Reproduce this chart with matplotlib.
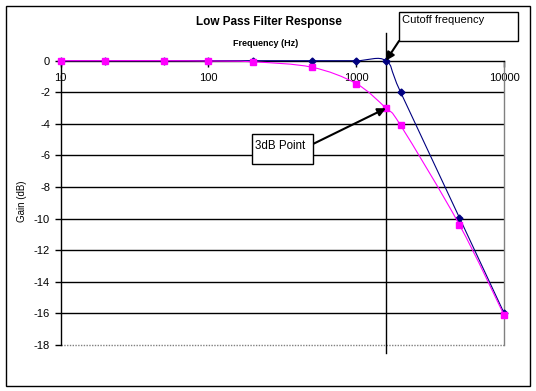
import numpy as np
import matplotlib
matplotlib.use("Agg")
import matplotlib.pyplot as plt
from matplotlib.path import Path
from matplotlib.patches import PathPatch, Rectangle
from matplotlib.ticker import NullLocator

plt.rcParams['font.family'] = ['Liberation Sans', 'DejaVu Sans']
plt.rcParams['axes.unicode_minus'] = False

# ---- data ----
freq = [10, 20, 50, 100, 200, 500, 1000, 1591, 2000, 5000, 10000]
ideal_gain = [0, 0, 0, 0, 0, 0, 0, 0, -2.0, -9.95, -15.97]
actual_gain = [0, 0, 0, -0.02, -0.07, -0.41, -1.45, -3.01, -4.1, -10.4, -16.1]
cutoff = 1591
x_ticks = [10, 100, 1000, 10000]
x_labels = ["10", "100", "1000", "10000"]
y_ticks = [0, -2, -4, -6, -8, -10, -12, -14, -16, -18]
y_labels = ["0", "-2", "-4", "-6", "-8", "-10", "-12", "-14", "-16", "-18"]

W, H = 536, 391
fig = plt.figure(figsize=(W / 100, H / 100), dpi=100)

def fx(px):
    return px / W

def fy(py):
    return 1 - py / H

ax = fig.add_axes([fx(60.5), fy(345), fx(504) - fx(60.5), fy(60.7) - fy(345)])
ax.set_xscale('log')
ax.set_xlim(10, 10000)
ax.set_ylim(-18, 0)


def smooth_path(xs, ys):
    lx = np.log10(np.asarray(xs, float))
    yy = np.asarray(ys, float)
    n = len(lx)
    verts = [(xs[0], ys[0])]
    codes = [Path.MOVETO]
    for i in range(n - 1):
        i0 = max(i - 1, 0)
        i3 = min(i + 2, n - 1)
        c1x = lx[i] + (lx[i + 1] - lx[i0]) / 6
        c1y = yy[i] + (yy[i + 1] - yy[i0]) / 6
        c2x = lx[i + 1] - (lx[i3] - lx[i]) / 6
        c2y = yy[i + 1] - (yy[i3] - yy[i]) / 6
        verts += [(10 ** c1x, c1y), (10 ** c2x, c2y), (xs[i + 1], ys[i + 1])]
        codes += [Path.CURVE4] * 3
    return Path(verts, codes)


navy = '#000080'
pink = '#FF00FF'

p1 = PathPatch(smooth_path(freq, ideal_gain), fill=False, edgecolor=navy, lw=0.8,
               transform=ax.transData, zorder=3, clip_on=False)
ax.add_patch(p1)
ax.plot(freq, ideal_gain, ls='none', marker='D', ms=3.5, color=navy, zorder=3, clip_on=False)

p2 = PathPatch(smooth_path(freq, actual_gain), fill=False, edgecolor=pink, lw=0.8,
               transform=ax.transData, zorder=4, clip_on=False)
ax.add_patch(p2)
ax.plot(freq, actual_gain, ls='none', marker='s', ms=4.5, color=pink, zorder=4, clip_on=False)

# grid lines
for yv in y_ticks[1:-1]:
    ax.axhline(yv, color='black', lw=1.0, zorder=1)
ax.axhline(-18, color='#808080', lw=1.0, ls=(0, (1, 1)), zorder=1, clip_on=False)

# spines
ax.spines['top'].set_visible(False)
ax.spines['right'].set_color('#808080')
ax.spines['right'].set_linestyle((0, (1, 1)))
ax.spines['right'].set_linewidth(1.0)
ax.spines['bottom'].set_position(('data', 0))
ax.spines['bottom'].set_color('black')
ax.spines['bottom'].set_linewidth(1.0)
ax.spines['left'].set_color('black')
ax.spines['left'].set_linewidth(1.0)

ax.set_xticks(x_ticks)
ax.set_xticklabels(x_labels)
ax.xaxis.set_minor_locator(NullLocator())
ax.set_yticks(y_ticks)
ax.set_yticklabels(y_labels)
ax.tick_params(axis='x', direction='out', length=4, width=1, pad=4.5, labelsize=8, colors='black')
ax.tick_params(axis='y', direction='out', length=4, width=1, pad=3.5, labelsize=8, colors='black')

# cutoff vertical line
ax.axvline(cutoff, ymin=-0.028, ymax=1.097, color='black', lw=1.0, clip_on=False, zorder=2)

# texts
fig.text(fx(269), fy(22), "Low Pass Filter Response", ha='center', va='center',
         fontsize=8.5, fontweight='bold')
fig.text(fx(266), fy(43), "Frequency (Hz)", ha='center', va='center',
         fontsize=6.5, fontweight='bold')
fig.text(fx(22), fy(201), "Gain (dB)", ha='center', va='center', rotation=90,
         fontsize=7)

# annotation boxes
fig.patches.append(Rectangle((fx(399), fy(41)), fx(518) - fx(399), fy(12) - fy(41),
                             transform=fig.transFigure, facecolor='white',
                             edgecolor='black', lw=1.0, zorder=5))
fig.text(fx(402), fy(20), "Cutoff frequency", ha='left', va='center', fontsize=8, zorder=6)
fig.patches.append(Rectangle((fx(252), fy(164)), fx(313) - fx(252), fy(134) - fy(164),
                             transform=fig.transFigure, facecolor='white',
                             edgecolor='black', lw=1.0, zorder=5))
fig.text(fx(255), fy(146), "3dB Point", ha='left', va='center', fontsize=8.3, zorder=6)

arrowprops = dict(arrowstyle='-|>', color='black', lw=1.5, mutation_scale=12,
                  shrinkA=0, shrinkB=0)
ax.annotate("", xy=(cutoff, 0), xycoords='data',
            xytext=(fx(399), fy(41)), textcoords='figure fraction',
            arrowprops=arrowprops, annotation_clip=False, zorder=6)
ax.annotate("", xy=(cutoff, -3.01), xycoords='data',
            xytext=(fx(313), fy(144)), textcoords='figure fraction',
            arrowprops=arrowprops, annotation_clip=False, zorder=6)

# outer frame
fig.patches.append(Rectangle((fx(5.5), fy(385.5)), fx(530) - fx(5.5), fy(5.5) - fy(385.5),
                             transform=fig.transFigure, facecolor='none',
                             edgecolor='black', lw=1.0, zorder=10))

fig.savefig("out.png", dpi=100)
